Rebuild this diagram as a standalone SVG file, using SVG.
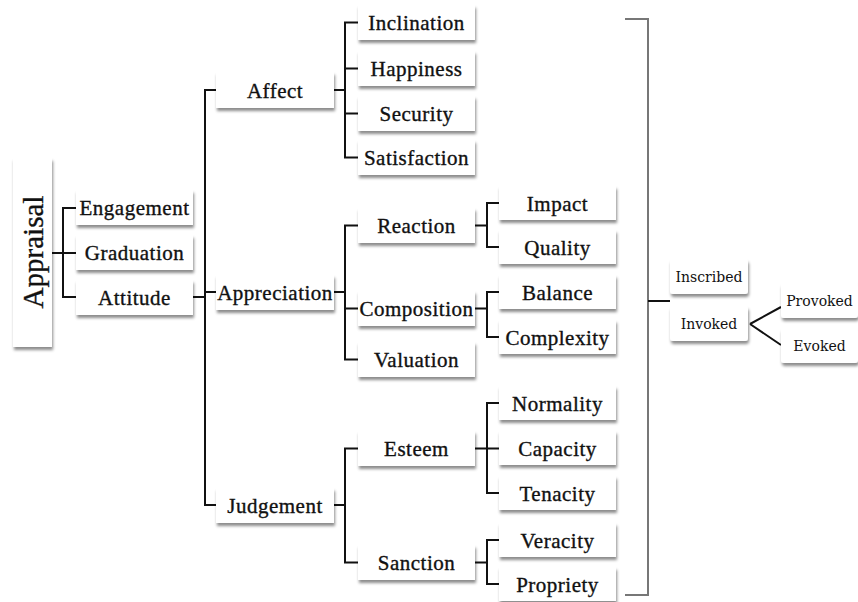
<svg xmlns="http://www.w3.org/2000/svg" width="858" height="602" viewBox="0 0 858 602">
<defs>
<filter id="sh" x="-20%" y="-30%" width="140%" height="170%">
<feDropShadow dx="1" dy="3" stdDeviation="1.8" flood-color="#000" flood-opacity="0.45"/>
</filter>
<style>
.box{fill:#fff;filter:url(#sh)}
.t{font-family:"Liberation Serif","Times New Roman",serif;font-size:21px;letter-spacing:0.5px;fill:#111;stroke:#111;stroke-width:0.35;text-anchor:middle}
.s{font-family:"DejaVu Serif",serif;font-size:14px;fill:#111;text-anchor:middle}
.c{fill:none;stroke:#111;stroke-width:2}
.br{fill:none;stroke:#777;stroke-width:2}
</style>
</defs>
<rect width="858" height="602" fill="#fff"/>
<g id="connectors">
<path class="c" d="M52,253 H76 M76,208 H63 V297 H76"/>
<path class="c" d="M193,297 H205 M216,90 H205 V505 H216 M205,292 H216"/>
<path class="c" d="M334,90 H345 M358,22.5 H345 V157.5 H358 M345,68.5 H358 M345,113.5 H358"/>
<path class="c" d="M334,292 H345 M358,225.5 H345 V359.5 H358 M345,308.5 H358"/>
<path class="c" d="M334,505 H345 M358,448.5 H345 V562.5 H358"/>
<path class="c" d="M475,225.5 H487 M499,203 H487 V247 H499"/>
<path class="c" d="M475,308.5 H487 M499,292 H487 V337 H499"/>
<path class="c" d="M475,448.5 H499 M499,403 H487 V493 H499"/>
<path class="c" d="M475,562.5 H487 M499,540 H487 V584 H499"/>
<path class="br" d="M625,19 H648 V595 H625"/>
<path class="c" d="M648,301 H670"/>
<path class="c" d="M750,324 L781,307 M750,324 L781,345"/>
</g>
<g id="appraisal"><rect class="box" x="13" y="158" width="39" height="189"/><text class="t" style="font-size:29px;letter-spacing:0" transform="translate(43,252) rotate(-90)">Appraisal</text></g>
<g id="engagement"><rect class="box" x="76" y="190" width="117" height="35"/><text class="t" x="134.5" y="215">Engagement</text></g>
<g id="graduation"><rect class="box" x="76" y="235" width="117" height="35"/><text class="t" x="134.5" y="260">Graduation</text></g>
<g id="attitude"><rect class="box" x="76" y="280" width="117" height="35"/><text class="t" x="134.5" y="305">Attitude</text></g>
<g id="affect"><rect class="box" x="216" y="72" width="118" height="36"/><text class="t" x="275" y="97.5">Affect</text></g>
<g id="appreciation"><rect class="box" x="216" y="275" width="118" height="35"/><text class="t" x="275" y="300">Appreciation</text></g>
<g id="judgement"><rect class="box" x="216" y="488" width="118" height="35"/><text class="t" x="275" y="513">Judgement</text></g>
<g id="inclination"><rect class="box" x="358" y="5" width="117" height="35"/><text class="t" x="416.5" y="30">Inclination</text></g>
<g id="happiness"><rect class="box" x="358" y="51" width="117" height="35"/><text class="t" x="416.5" y="76">Happiness</text></g>
<g id="security"><rect class="box" x="358" y="96" width="117" height="35"/><text class="t" x="416.5" y="121">Security</text></g>
<g id="satisfaction"><rect class="box" x="358" y="140" width="117" height="35"/><text class="t" x="416.5" y="165">Satisfaction</text></g>
<g id="reaction"><rect class="box" x="358" y="208" width="117" height="35"/><text class="t" x="416.5" y="233">Reaction</text></g>
<g id="composition"><rect class="box" x="358" y="291" width="117" height="35"/><text class="t" x="416.5" y="316">Composition</text></g>
<g id="valuation"><rect class="box" x="358" y="342" width="117" height="35"/><text class="t" x="416.5" y="367">Valuation</text></g>
<g id="esteem"><rect class="box" x="358" y="431" width="117" height="35"/><text class="t" x="416.5" y="456">Esteem</text></g>
<g id="sanction"><rect class="box" x="358" y="545" width="117" height="35"/><text class="t" x="416.5" y="570">Sanction</text></g>
<g id="impact"><rect class="box" x="499" y="186" width="117" height="34"/><text class="t" x="557.5" y="210.5">Impact</text></g>
<g id="quality"><rect class="box" x="499" y="230" width="117" height="34"/><text class="t" x="557.5" y="254.5">Quality</text></g>
<g id="balance"><rect class="box" x="499" y="275" width="117" height="34"/><text class="t" x="557.5" y="299.5">Balance</text></g>
<g id="complexity"><rect class="box" x="499" y="320" width="117" height="34"/><text class="t" x="557.5" y="344.5">Complexity</text></g>
<g id="normality"><rect class="box" x="499" y="386" width="117" height="34"/><text class="t" x="557.5" y="410.5">Normality</text></g>
<g id="capacity"><rect class="box" x="499" y="431" width="117" height="34"/><text class="t" x="557.5" y="455.5">Capacity</text></g>
<g id="tenacity"><rect class="box" x="499" y="476" width="117" height="34"/><text class="t" x="557.5" y="500.5">Tenacity</text></g>
<g id="veracity"><rect class="box" x="499" y="523" width="117" height="34"/><text class="t" x="557.5" y="547.5">Veracity</text></g>
<g id="propriety"><rect class="box" x="499" y="567" width="117" height="34"/><text class="t" x="557.5" y="591.5">Propriety</text></g>
<g id="inscribed"><rect class="box" x="670" y="259" width="78" height="35" rx="3"/><text class="s" x="709" y="281.5">Inscribed</text></g>
<g id="invoked"><rect class="box" x="670" y="306" width="78" height="35" rx="3"/><text class="s" x="709" y="328.5">Invoked</text></g>
<g id="provoked"><rect class="box" x="781" y="283" width="77" height="35" rx="3"/><text class="s" x="819.5" y="305.5">Provoked</text></g>
<g id="evoked"><rect class="box" x="781" y="328" width="77" height="35" rx="3"/><text class="s" x="819.5" y="350.5">Evoked</text></g>
</svg>
